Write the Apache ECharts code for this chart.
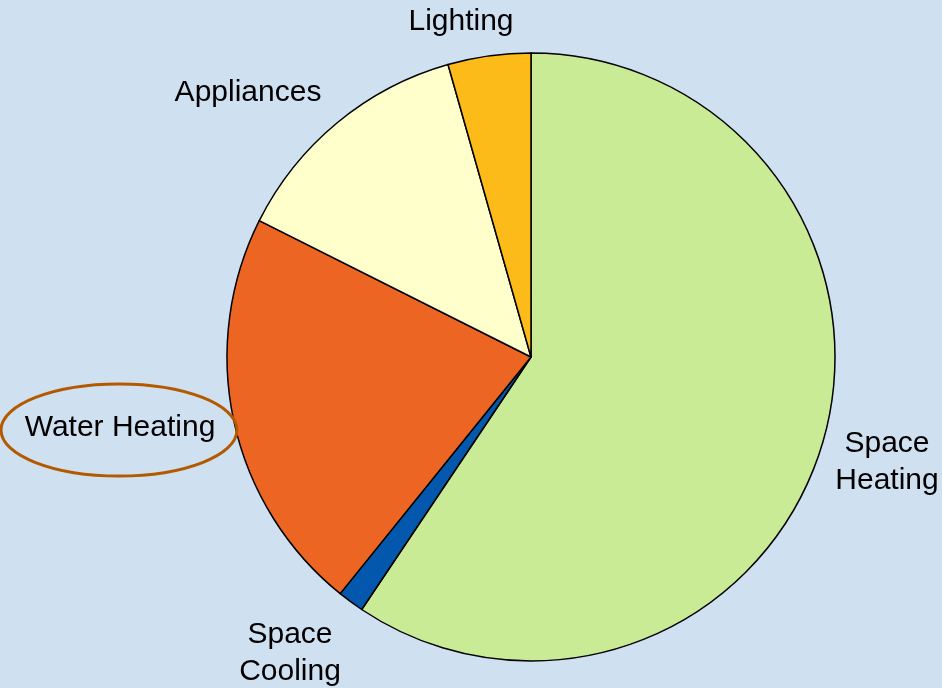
<!DOCTYPE html>
<html>
<head>
<meta charset="utf-8">
<script src="https://cdn.jsdelivr.net/npm/echarts@6/dist/echarts.min.js"></script>
<style>
  html, body { margin: 0; padding: 0; background: #CFE0F1; }
  #main { width: 942px; height: 688px; }
</style>
</head>
<body>
<div id="main"></div>
<script>
// data (share of energy use, %)
var categories = ['Space\nHeating', 'Space\nCooling', 'Water Heating', 'Appliances', 'Lighting'];
var values = [59.4, 1.4, 21.6, 13.2, 4.4];
var colors = ['#C9EB95', '#0357AC', '#EC6523', '#FFFFCC', '#FDBB1A'];

// where each label sits (centre of text)
var labelPos = [[887, 462], [290, 653], [120, 428], [248, 93], [461, 22]];

var chart = echarts.init(document.getElementById('main'));
var option = {
    backgroundColor: '#CFE0F1',
    animation: false,
    graphic: [{
        type: 'ellipse',
        shape: { cx: 119, cy: 430, rx: 118, ry: 46 },
        style: { fill: 'none', stroke: '#B35A00', lineWidth: 3 },
        z: 10
    }],
    series: [{
        type: 'pie',
        center: [531, 357],
        radius: 304,
        startAngle: 90,
        clockwise: true,
        avoidLabelOverlap: false,
        itemStyle: {
            borderColor: '#000',
            borderWidth: 1.5
        },
        label: {
            show: true,
            position: 'outside',
            color: '#000',
            fontFamily: '"Liberation Sans", Arial, sans-serif',
            fontSize: 30,
            lineHeight: 37,
            align: 'center',
            formatter: '{b}'
        },
        labelLine: { show: false },
        labelLayout: function (params) {
            var p = labelPos[params.dataIndex];
            return { x: p[0], y: p[1], align: 'center', verticalAlign: 'middle' };
        },
        data: categories.map(function (name, i) {
            return { name: name, value: values[i], itemStyle: { color: colors[i] } };
        })
    }]
};
chart.setOption(option);
</script>
</body>
</html>
